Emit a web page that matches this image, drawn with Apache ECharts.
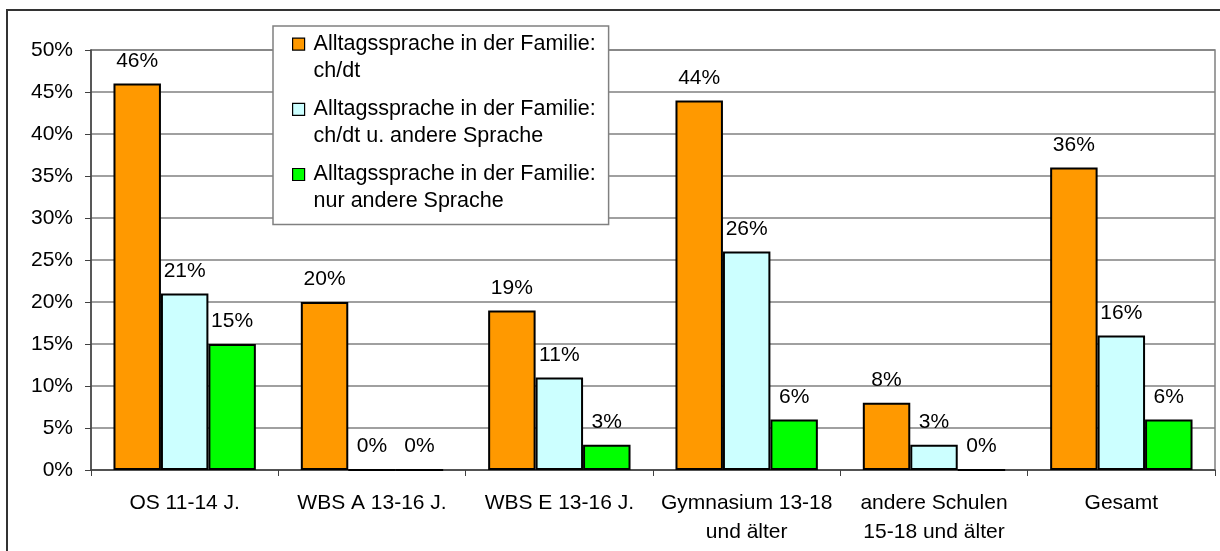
<!DOCTYPE html>
<html lang="de">
<head>
<meta charset="UTF-8">
<title>Alltagssprache in der Familie</title>
<script src="https://cdn.jsdelivr.net/npm/echarts@6/dist/echarts.min.js"></script>
<style>
  html, body { margin: 0; padding: 0; background: #fff; }
  #main { width: 1220px; height: 551px; }
</style>
</head>
<body>
<div id="main"></div>
<script>
// Kategorien (Schultypen)
const schulen = ['OS 11-14 J.', 'WBS A 13-16 J.', 'WBS E 13-16 J.', 'Gymnasium 13-18\nund älter', 'andere Schulen\n15-18 und älter', 'Gesamt'];
const serienNamen = [
  'Alltagssprache in der Familie:\nch/dt',
  'Alltagssprache in der Familie:\nch/dt u. andere Sprache',
  'Alltagssprache in der Familie:\nnur andere Sprache'
];
// Werte in Prozent
const chDt = [46, 20, 19, 44, 8, 36];
const chDtAndere = [21, 0, 11, 26, 3, 16];
const nurAndere = [15, 0, 3, 6, 0, 6];
const farben = ['#FF9900', '#CCFFFF', '#00FF00'];
const yTicks = { min: 0, max: 50, interval: 5 };

const font = 'Liberation Sans, Arial, sans-serif';

const chart = echarts.init(document.getElementById('main'));

function bar(name, values, color) {
  return {
    name: name,
    type: 'bar',
    data: values,
    barGap: '0%',
    barCategoryGap: '24%',
    itemStyle: { color: color, borderColor: '#000', borderWidth: 2 },
    label: {
      show: true,
      position: 'top',
      distance: 12,
      formatter: '{c}%',
      color: '#000',
      fontFamily: font,
      fontSize: 21
    },
    emphasis: { disabled: true }
  };
}

const option = {
  animation: false,
  backgroundColor: '#fff',
  graphic: [{
    type: 'rect',
    shape: { x: 7, y: 10, width: 1300, height: 700 },
    style: { fill: 'none', stroke: '#333', lineWidth: 2 },
    z: -10
  }],
  grid: {
    left: 91, right: 5, top: 50, bottom: 81,
    show: true, borderColor: '#808080', borderWidth: 1.5
  },
  legend: {
    left: 273, top: 26,
    orient: 'vertical',
    padding: [4, 13, 9, 19],
    backgroundColor: '#fff',
    borderColor: '#808080',
    borderWidth: 1.5,
    itemWidth: 12,
    itemHeight: 54,
    itemGap: 10,
    icon: 'path://M0,0M0,54M0,7.5H12V19.5H0Z',
    itemStyle: { borderColor: '#000', borderWidth: 1.2 },
    textStyle: {
      fontFamily: font, fontSize: 21.5, color: '#000',
      lineHeight: 27, padding: [0, 0, 0, 4]
    },
    data: serienNamen
  },
  xAxis: {
    type: 'category',
    data: schulen,
    axisLine: { lineStyle: { color: '#404040', width: 1.5 } },
    axisTick: { show: true, length: 6, lineStyle: { color: '#404040' } },
    axisLabel: {
      interval: 0, margin: 19, color: '#000',
      fontFamily: font, fontSize: 21, lineHeight: 29
    }
  },
  yAxis: {
    type: 'value',
    min: yTicks.min, max: yTicks.max, interval: yTicks.interval,
    axisLine: { show: true, lineStyle: { color: '#404040', width: 1.5 } },
    axisTick: { show: true, length: 6, lineStyle: { color: '#404040' } },
    axisLabel: {
      formatter: '{value}%', margin: 18, color: '#000',
      fontFamily: font, fontSize: 21
    },
    splitLine: { lineStyle: { color: '#808080', width: 1.5 } }
  },
  series: [
    bar(serienNamen[0], chDt, farben[0]),
    bar(serienNamen[1], chDtAndere, farben[1]),
    bar(serienNamen[2], nurAndere, farben[2])
  ]
};

chart.setOption(option);
</script>
</body>
</html>
